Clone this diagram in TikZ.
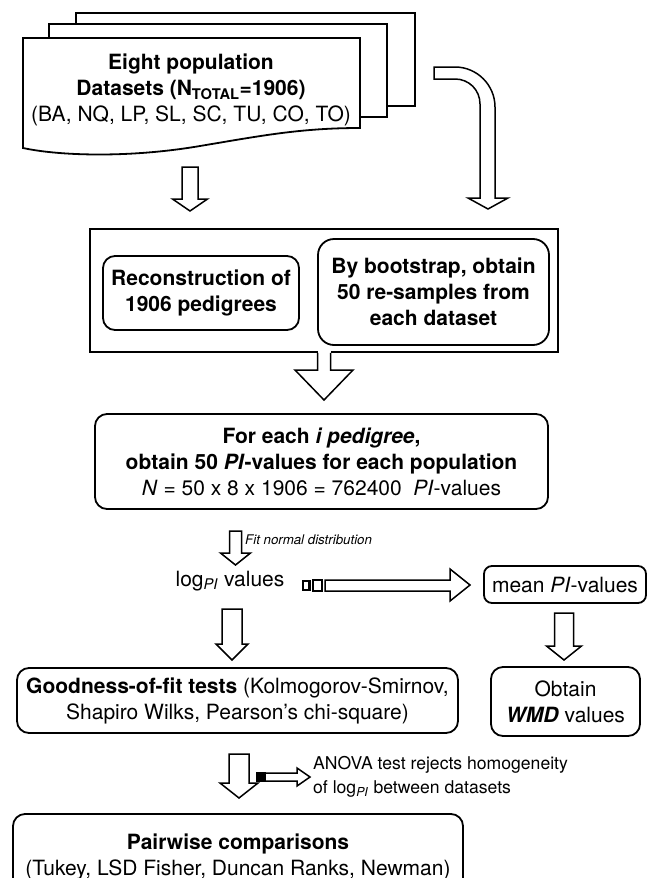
\documentclass[tikz,border=0pt]{standalone}
\usepackage{fontspec}
\setmainfont{TeX Gyre Heros}
\usetikzlibrary{calc}
\tikzset{
  lw/.style={line width=1.8pt},
  box/.style={draw, lw, fill=white, rounded corners=12pt, inner sep=0pt, align=center,
              font=\fontsize{21}{26}\selectfont},
  plainbox/.style={draw, lw, fill=white, inner sep=0pt},
  page/.style={draw, lw, fill=white, line join=miter},
  txt/.style={inner sep=0pt, align=center, font=\fontsize{21}{26}\selectfont},
  barrow/.style={draw, line width=1.5pt, fill=white, line join=miter},
}
% block arrow pointing down: #1 start, #2 tip, #3 half shaft, #4 half head, #5 head length
\newcommand\blkdown[5]{%
  \draw[barrow] let \p1=(#1), \p2=(#2) in
    (\x1-#3pt,\y1) -- (\x1-#3pt,\y2+#5pt) -- (\x1-#4pt,\y2+#5pt) -- (\x1,\y2)
    -- (\x1+#4pt,\y2+#5pt) -- (\x1+#3pt,\y2+#5pt) -- (\x1+#3pt,\y1) -- cycle;}
\begin{document}
\begin{tikzpicture}[x=1pt,y=-1pt]
\useasboundingbox (0,0) rectangle (652,878);
\clip (0,0) rectangle (652,878);

% ---------- document stack ----------
\draw[page] (76,13) rectangle (415,106);
\draw[page] (49,24) rectangle (387,117);
\draw[page] (23,38) -- (360,38) -- (360,128)
   .. controls (300,128) and (260,136) .. (200,146)
   .. controls (130,158) and (60,156) .. (23,148) -- cycle;
\node[txt] (doc) at (191,90) {\textbf{Eight population}\\
  \textbf{Datasets (N\textsubscript{TOTAL}=1906)}\\
  (BA, NQ, LP, SL, SC, TU, CO, TO)};

% curved block arrow from the stack to the outer box
\coordinate (cstart) at (434,73);
\coordinate (ctip) at (488,209);
\draw[barrow] (434,67) -- (455,67) .. controls (477,67) and (495,85) .. (495,107)
   -- (495,198) -- (508,198) -- (ctip) -- (468,198) -- (480,198) -- (480,104)
   .. controls (480,90) and (469,79) .. (455,79) -- (434,79) -- cycle;

% arrow from stack down (left)
\coordinate (a1s) at (190,167);
\coordinate (a1e) at (190,211);
\blkdown{a1s}{a1e}{8}{17.5}{12}

% ---------- outer box ----------
\node[plainbox, minimum width=468pt, minimum height=123pt] (outer) at (324,290.5) {};
\node[box, minimum width=196pt, minimum height=74pt] (recon) at (201,293)
  {\textbf{Reconstruction of}\\\textbf{1906 pedigrees}};
\node[box, rounded corners=16pt, minimum width=231pt, minimum height=106pt] (boot) at (433.5,292)
  {\textbf{By bootstrap, obtain}\\\textbf{50 re-samples from}\\\textbf{each dataset}};

% arrow from outer box to PI box (open top, merging with the border)
\coordinate (a2s) at (outer.south);
\coordinate (a2e) at (324,400);
\fill[white] (317.5,350) rectangle (330.5,360);
\draw[line width=1.5pt, line join=miter] let \p1=(a2s), \p2=(a2e) in
   (\x1-6.5pt,\y1) -- (\x1-6.5pt,\y2+30pt) -- (\x1-29pt,\y2+30pt) -- (\x1,\y2)
   -- (\x1+29pt,\y2+30pt) -- (\x1+6.5pt,\y2+30pt) -- (\x1+6.5pt,\y1);

% ---------- PI box ----------
\node[box, minimum width=453pt, minimum height=95pt] (pibox) at (321.5,461.5)
  {\textbf{For each \textit{i pedigree},}\\
   \textbf{obtain 50 \textit{PI}-values for each population}\\
   \textit{N} = 50 x 8 x 1906 = 762400 \ \textit{PI}-values};

% fit arrow
\coordinate (a3s) at (235.5,531);
\coordinate (a3e) at (235.5,565);
\blkdown{a3s}{a3e}{6}{15}{12}
\node[inner sep=0pt, anchor=west, font=\fontsize{13.3}{15}\selectfont\itshape] (fit) at (245,540)
  {Fit normal distribution};

% log PI values
\node[txt] (logpi) at (230,581) {log\textsubscript{\textit{PI}} values};

% striped arrow to mean box
\draw[line width=2.4pt] (303,581) rectangle (309.5,590);
\draw[line width=1.5pt] (313,580) rectangle (322,591);
\coordinate (a4e) at (470,585);
\draw[barrow] (325,580) -- (450,580) -- (450,569) -- (a4e) -- (450,601) -- (450,591) -- (325,591) -- cycle;

\node[box, rounded corners=8pt, minimum width=162pt, minimum height=37pt] (mean) at (565,584.5)
  {mean \textit{PI}-values};

% arrows down
\coordinate (a5s) at (232,609);
\coordinate (a5e) at (232,660);
\blkdown{a5s}{a5e}{10}{16}{16}
\coordinate (a6s) at (564,613);
\coordinate (a6e) at (564,660);
\blkdown{a6s}{a6e}{9.5}{17.5}{14}

% ---------- goodness / obtain ----------
\node[box, minimum width=441pt, minimum height=65pt] (good) at (237.5,700.5)
  {\textbf{Goodness-of-fit tests} (Kolmogorov-Smirnov,\\Shapiro Wilks, Pearson's chi-square)};
\node[box, minimum width=149pt, minimum height=69pt] (obtain) at (565.5,701.5)
  {Obtain\\\textbf{\textit{WMD}} values};

% ANOVA arrows
\coordinate (a7s) at (239,754);
\coordinate (a7e) at (239,798);
\blkdown{a7s}{a7e}{10}{19}{15}
\fill (257,773) rectangle (265,781);
\coordinate (a8e) at (310,777);
\draw[barrow] (265,773) -- (297,773) -- (297,768) -- (a8e) -- (297,786) -- (297,781) -- (265,781);
\draw[line width=1.5pt] (257,773) rectangle (265,781);
\node[inner sep=0pt, anchor=west, align=left, font=\fontsize{17.6}{23.5}\selectfont] (anova) at (313,777)
  {ANOVA test rejects homogeneity\\of log\textsubscript{\textit{PI}} between datasets};

% ---------- pairwise ----------
\node[box, minimum width=450pt, minimum height=85pt] (pair) at (238,856.5)
  {\textbf{Pairwise comparisons}\\(Tukey, LSD Fisher, Duncan Ranks, Newman)};
\end{tikzpicture}
\end{document}
